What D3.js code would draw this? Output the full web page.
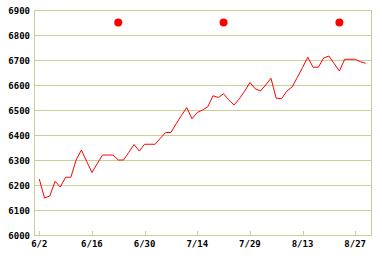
<!DOCTYPE html>
<html>
<head>
<meta charset="utf-8">
<script src="https://cdn.jsdelivr.net/npm/d3@7"></script>
<style>
  body { margin: 0; background: #fff; }
  text { font-family: "DejaVu Sans Mono", monospace; font-weight: bold; font-size: 9px; fill: #000; }
</style>
</head>
<body>
<div id="chart"></div>
<script>
// daily closes, one per trading day starting 6/2
const prices = [6224, 6148, 6156, 6215, 6192, 6231, 6231, 6300, 6340, 6295,
    6250, 6285, 6320, 6320, 6320, 6300, 6300, 6330, 6362, 6336,
    6363, 6363, 6363, 6387, 6410, 6410, 6445, 6478, 6510, 6465,
    6490, 6500, 6513, 6557, 6550, 6565, 6540, 6520, 6545, 6575,
    6610, 6585, 6576, 6600, 6627, 6547, 6545, 6575, 6592, 6630,
    6670, 6711, 6671, 6671, 6708, 6716, 6686, 6656, 6703, 6703,
    6703, 6693, 6687];
const tickIdx = [0, 10, 20, 30, 40, 50, 60];
const tickLabels = ["6/2", "6/16", "6/30", "7/14", "7/29", "8/13", "8/27"];
const yTicks = [6000, 6100, 6200, 6300, 6400, 6500, 6600, 6700, 6800, 6900];
// event markers
const eventIdx = [15, 35, 57];
const eventLevel = 6850;

const W = 382, H = 258;
const margin = {top: 10, right: 11, bottom: 23, left: 34};

const svg = d3.select("#chart").append("svg")
    .attr("width", W).attr("height", H);

const x = d3.scaleLinear().domain([-1, prices.length]).range([margin.left, W - margin.right]);
const y = d3.scaleLinear().domain([6000, 6900]).range([H - margin.bottom, margin.top]);

const gridColor = "#cccc99";

// horizontal grid
svg.append("g").selectAll("line")
    .data(yTicks).enter().append("line")
    .attr("x1", margin.left).attr("x2", W - margin.right)
    .attr("y1", d => Math.round(y(d)) + 0.5).attr("y2", d => Math.round(y(d)) + 0.5)
    .attr("stroke", gridColor);

// left + right frame
svg.append("line")
    .attr("x1", margin.left + 0.5).attr("x2", margin.left + 0.5)
    .attr("y1", margin.top).attr("y2", H - margin.bottom + 1)
    .attr("stroke", gridColor);
svg.append("line")
    .attr("x1", W - margin.right + 0.5).attr("x2", W - margin.right + 0.5)
    .attr("y1", margin.top).attr("y2", H - margin.bottom + 1)
    .attr("stroke", gridColor);

// y labels
svg.append("g").selectAll("text")
    .data(yTicks).enter().append("text")
    .attr("x", margin.left - 4)
    .attr("y", d => y(d) + 3.5)
    .attr("text-anchor", "end")
    .text(d => d);

// x ticks (inward) + labels
const xt = svg.append("g");
xt.selectAll("line")
    .data(tickIdx).enter().append("line")
    .attr("x1", d => Math.round(x(d)) + 0.5).attr("x2", d => Math.round(x(d)) + 0.5)
    .attr("y1", H - margin.bottom - 4).attr("y2", H - margin.bottom)
    .attr("stroke", gridColor);
xt.selectAll("text")
    .data(tickIdx).enter().append("text")
    .attr("x", d => x(d))
    .attr("y", H - margin.bottom + 12)
    .attr("text-anchor", "middle")
    .text((d, i) => tickLabels[i]);

// price line
const line = d3.line()
    .x((d, i) => x(i))
    .y(d => y(d));
svg.append("path")
    .datum(prices)
    .attr("d", line)
    .attr("fill", "none")
    .attr("stroke", "#ff0000")
    .attr("stroke-width", 1);

// markers
svg.append("g").selectAll("circle")
    .data(eventIdx).enter().append("circle")
    .attr("cx", d => x(d))
    .attr("cy", y(eventLevel))
    .attr("r", 4)
    .attr("fill", "#ff0000");
</script>
</body>
</html>
